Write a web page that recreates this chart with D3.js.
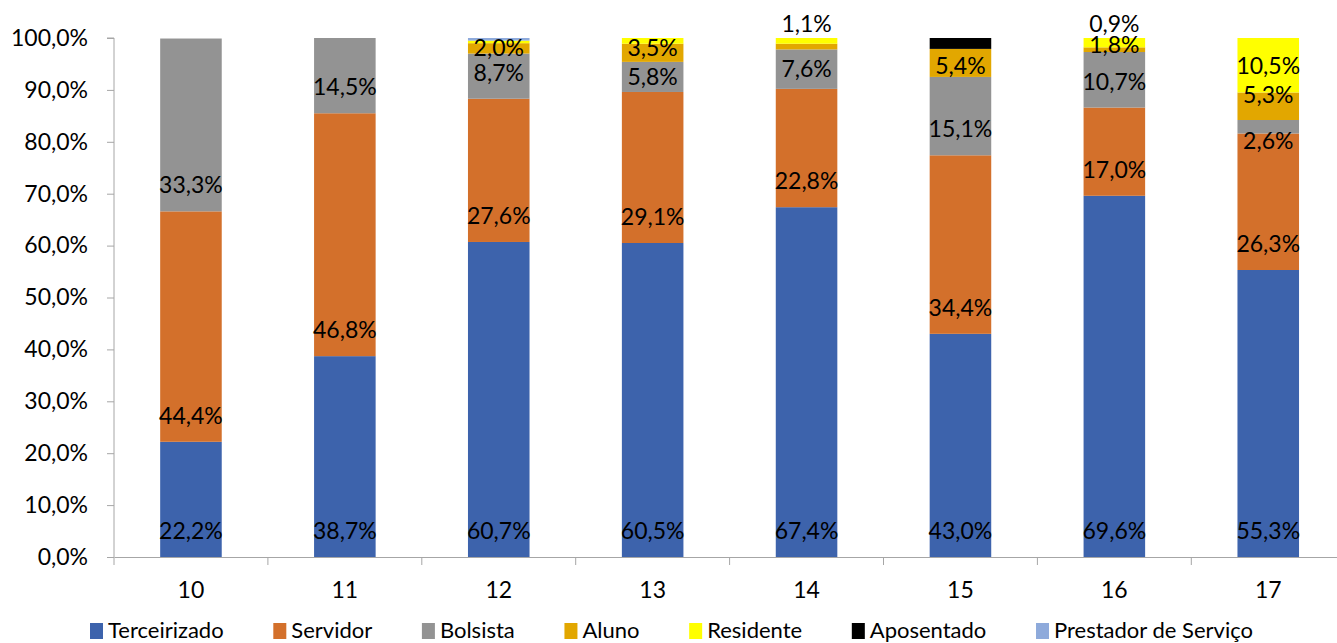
<!DOCTYPE html>
<html>
<head>
<meta charset="utf-8">
<script src="https://cdn.jsdelivr.net/npm/d3@7"></script>
<style>
  html, body { margin: 0; padding: 0; background: #fff; }
  svg { display: block; font-family: Lato, "Open Sans", sans-serif; }
</style>
</head>
<body>
<svg id="chart" width="1337" height="643"></svg>
<script>
// Categories along the x axis
const categories = ["10", "11", "12", "13", "14", "15", "16", "17"];

// Share of each group per category (percent)
const terceirizado = [22.2, 38.7, 60.7, 60.5, 67.4, 43.0, 69.6, 55.3];
const servidor     = [44.4, 46.8, 27.6, 29.1, 22.8, 34.4, 17.0, 26.3];
const bolsista     = [33.3, 14.5,  8.7,  5.8,  7.6, 15.1, 10.7,  2.6];
const aluno        = [ 0.0,  0.0,  2.0,  3.5,  1.1,  5.4,  0.9,  5.3];
const residente    = [ 0.0,  0.0,  0.5,  1.1,  1.1,  0.0,  1.8, 10.5];
const aposentado   = [ 0.0,  0.0,  0.0,  0.0,  0.0,  2.1,  0.0,  0.0];
const prestador    = [ 0.0,  0.0,  0.5,  0.0,  0.0,  0.0,  0.0,  0.0];

const seriesNames = ["Terceirizado", "Servidor", "Bolsista", "Aluno", "Residente", "Aposentado", "Prestador de Serviço"];
const seriesValues = [terceirizado, servidor, bolsista, aluno, residente, aposentado, prestador];

// Y axis tick values (percent)
const yTicks = [0, 10, 20, 30, 40, 50, 60, 70, 80, 90, 100];

const colors = {
  "Terceirizado": "#3d63ac",
  "Servidor": "#d3702b",
  "Bolsista": "#939393",
  "Aluno": "#e2a700",
  "Residente": "#ffff00",
  "Aposentado": "#000000",
  "Prestador de Serviço": "#8eaadb"
};

// Table built for d3.stack
const rows = categories.map((c, i) => {
  const r = { cat: c };
  seriesNames.forEach((s, j) => { r[s] = seriesValues[j][i]; });
  return r;
});

const svg = d3.select("#chart");
const fontSize = 23;
const legendFont = 22;

const plot = { left: 114, top: 38, bottom: 557 };
const step = 153.9;
const x = d3.scaleBand()
  .domain(categories)
  .range([plot.left, plot.left + step * categories.length])
  .paddingInner(0.6)
  .paddingOuter(0.3);

const y = d3.scaleLinear().domain([0, 100]).range([plot.bottom, plot.top]);

const ptBR = d3.formatLocale({ decimal: ",", thousands: ".", grouping: [3], currency: ["R$", ""] });
const pct = v => ptBR.format(".1f")(v) + "%";

// Stacked bars
const stacked = d3.stack().keys(seriesNames)(rows);

const layers = svg.append("g").selectAll("g")
  .data(stacked)
  .join("g")
  .attr("fill", d => colors[d.key]);

layers.selectAll("rect")
  .data(d => d.map(v => ({ v, key: d.key })))
  .join("rect")
  .attr("x", d => x(d.v.data.cat))
  .attr("width", x.bandwidth())
  .attr("y", d => y(d.v[1]))
  .attr("height", d => Math.max(0, y(d.v[0]) - y(d.v[1])));

// Y axis
const yAxis = d3.axisLeft(y)
  .tickValues(yTicks)
  .tickSize(7)
  .tickPadding(19)
  .tickFormat(v => pct(v));

const gy = svg.append("g")
  .attr("transform", `translate(${plot.left},0)`)
  .call(yAxis);
gy.select(".domain").attr("stroke", "#a6a6a6").attr("d", `M-7,${y(100)}H0V${y(0)}`);
gy.selectAll(".tick line").attr("stroke", "#a6a6a6");
gy.selectAll(".tick text")
  .attr("font-size", fontSize)
  .attr("font-family", "Lato, sans-serif")
  .attr("fill", "#000");

// X axis: labels centred on bars, tick marks on category boundaries
const xAxis = d3.axisBottom(x).tickSize(0).tickPadding(25);
const gx = svg.append("g")
  .attr("transform", `translate(0,${plot.bottom})`)
  .call(xAxis);
gx.select(".domain").attr("stroke", "#a6a6a6");
gx.selectAll(".tick text")
  .attr("font-size", fontSize)
  .attr("font-family", "Lato, sans-serif")
  .attr("fill", "#000");

const half = (x.step() - x.bandwidth()) / 2;
const bounds = categories.map(c => x(c) - half).concat([x(categories[categories.length - 1]) + x.bandwidth() + half]);
gx.selectAll(".bound")
  .data(bounds)
  .join("line")
  .attr("class", "bound")
  .attr("x1", d => d).attr("x2", d => d)
  .attr("y1", 0).attr("y2", 8)
  .attr("stroke", "#a6a6a6");

// Data labels
const hidden = new Set(["12|Residente", "12|Prestador de Serviço", "13|Residente", "14|Aluno", "15|Aposentado"]);
// labels lifted above the bar top
const aboveBar = new Set(["14|Residente", "16|Aluno"]);
// small manual nudges (px) where labels would collide
const nudge = { "13|Aluno": -5, "16|Residente": 2, "15|Aluno": 3, "17|Bolsista": 14, "17|Aluno": -11 };

const labels = [];
stacked.forEach(layer => {
  layer.forEach(v => {
    const val = v[1] - v[0];
    const id = v.data.cat + "|" + layer.key;
    if (val <= 0 || hidden.has(id)) return;
    const yb = y(v[0]), yt = y(v[1]), h = yb - yt;
    let cy;
    if (aboveBar.has(id)) cy = y(100) - 14;
    else cy = h >= 42 ? yb - 26 : yb - h / 2;
    cy += nudge[id] || 0;
    const raw = seriesValues[seriesNames.indexOf(layer.key)][categories.indexOf(v.data.cat)];
    labels.push({ cx: x(v.data.cat) + x.bandwidth() / 2, cy, text: pct(raw) });
  });
});

svg.append("g").selectAll("text")
  .data(labels)
  .join("text")
  .attr("x", d => d.cx)
  .attr("y", d => d.cy + 8)
  .attr("text-anchor", "middle")
  .attr("font-size", fontSize)
  .attr("fill", "#000")
  .text(d => d.text);

// Legend, spread across the width under the plot
const legend = svg.append("g");
const items = legend.selectAll("g").data(seriesNames).join("g");
items.append("rect")
  .attr("width", 13).attr("height", 16)
  .attr("y", 623)
  .attr("fill", d => colors[d]);
items.append("text")
  .attr("x", 18)
  .attr("y", 638)
  .attr("font-size", legendFont)
  .attr("fill", "#000")
  .text(d => d);

function layoutLegend() {
  const legendLeft = 90, legendRight = 1253;
  const widths = [];
  items.select("text").each(function () { widths.push(18 + this.getComputedTextLength()); });
  const gap = (legendRight - legendLeft - d3.sum(widths)) / (widths.length - 1);
  let cursor = legendLeft;
  items.each(function (d, i) {
    d3.select(this).attr("transform", `translate(${cursor},0)`);
    cursor += widths[i] + gap;
  });
}
layoutLegend();
if (document.fonts && document.fonts.ready) document.fonts.ready.then(layoutLegend);
</script>
</body>
</html>
